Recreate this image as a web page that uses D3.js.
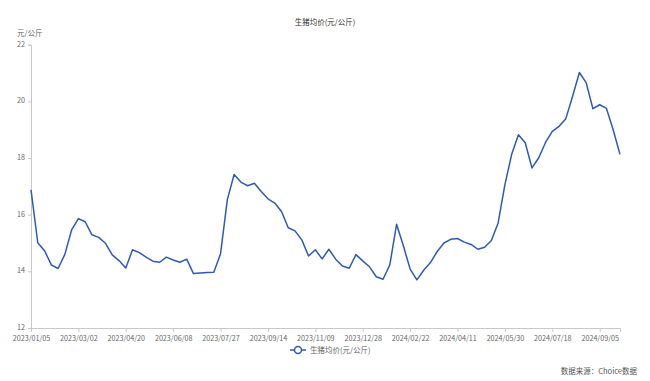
<!DOCTYPE html>
<html>
<head>
<meta charset="utf-8">
<script src="https://cdn.jsdelivr.net/npm/d3@7"></script>
<style>
  body { margin: 0; background: #fff; }
  svg { font-family: "Noto Sans CJK SC", "Noto Sans", sans-serif; }
</style>
</head>
<body>
<div id="chart"></div>
<script>
const chartTitle = "生猪均价(元/公斤)";
const unitLabel = "元/公斤";
const sourceLabel = "数据来源：Choice数据";

const dates = [
    "2023/01/05", "2023/01/12", "2023/01/19", "2023/02/02", "2023/02/09", "2023/02/16", "2023/02/23",
    "2023/03/02", "2023/03/09", "2023/03/16", "2023/03/23", "2023/03/30", "2023/04/06", "2023/04/13",
    "2023/04/20", "2023/04/27", "2023/05/04", "2023/05/11", "2023/05/18", "2023/05/25", "2023/06/01",
    "2023/06/08", "2023/06/15", "2023/06/22", "2023/06/29", "2023/07/06", "2023/07/13", "2023/07/20",
    "2023/07/27", "2023/08/03", "2023/08/10", "2023/08/17", "2023/08/24", "2023/08/31", "2023/09/07",
    "2023/09/14", "2023/09/21", "2023/09/28", "2023/10/12", "2023/10/19", "2023/10/26", "2023/11/02",
    "2023/11/09", "2023/11/16", "2023/11/23", "2023/11/30", "2023/12/07", "2023/12/14", "2023/12/21",
    "2023/12/28", "2024/01/04", "2024/01/11", "2024/01/18", "2024/01/25", "2024/02/01", "2024/02/08",
    "2024/02/22", "2024/02/29", "2024/03/07", "2024/03/14", "2024/03/21", "2024/03/28", "2024/04/04",
    "2024/04/11", "2024/04/18", "2024/04/25", "2024/05/02", "2024/05/09", "2024/05/16", "2024/05/23",
    "2024/05/30", "2024/06/06", "2024/06/13", "2024/06/20", "2024/06/27", "2024/07/04", "2024/07/11",
    "2024/07/18", "2024/07/25", "2024/08/01", "2024/08/08", "2024/08/15", "2024/08/22", "2024/08/29",
    "2024/09/05", "2024/09/12", "2024/09/19", "2024/09/26"
];

const prices = [
    16.88, 15.01, 14.73, 14.23, 14.10, 14.60, 15.46,
    15.86, 15.75, 15.29, 15.20, 14.99, 14.58, 14.38,
    14.12, 14.76, 14.66, 14.50, 14.36, 14.32, 14.50,
    14.40, 14.32, 14.43, 13.92, 13.94, 13.96, 13.97,
    14.62, 16.53, 17.42, 17.15, 17.02, 17.11, 16.82,
    16.56, 16.41, 16.11, 15.54, 15.43, 15.11, 14.54,
    14.76, 14.44, 14.78, 14.43, 14.19, 14.11, 14.59,
    14.37, 14.16, 13.81, 13.72, 14.23, 15.66, 14.90,
    14.08, 13.70, 14.04, 14.31, 14.70, 15.00, 15.13,
    15.16, 15.03, 14.95, 14.78, 14.85, 15.09, 15.71,
    17.06, 18.13, 18.82, 18.54, 17.65, 18.01, 18.55,
    18.94, 19.12, 19.39, 20.18, 21.02, 20.66, 19.74,
    19.88, 19.75, 18.99, 18.13
];

const yTicks = [12, 14, 16, 18, 20, 22];
const xTicks = dates.filter((d, i) => i % 7 === 0);

const canvasWidth = 650;
const canvasHeight = 381;
const margin = { top: 44.7, right: 30, bottom: 53, left: 31 };
const lineColor = "#3159b4";
const axisColor = "#c8c8c8";
const labelColor = "#666";

const svg = d3.select("#chart")
    .append("svg")
    .attr("width", canvasWidth)
    .attr("height", canvasHeight);

const xScale = d3.scalePoint()
    .domain(dates)
    .range([margin.left, canvasWidth - margin.right]);

const yScale = d3.scaleLinear()
    .domain([12, 22])
    .range([canvasHeight - margin.bottom, margin.top]);

// title and unit
svg.append("text")
    .attr("x", 325)
    .attr("y", 25)
    .attr("text-anchor", "middle")
    .attr("font-size", 7.5)
    .attr("fill", "#333")
    .text(chartTitle);

svg.append("text")
    .attr("x", 17)
    .attr("y", 36)
    .attr("font-size", 7.5)
    .attr("fill", labelColor)
    .text(unitLabel);

// axes
const xAxis = svg.append("g")
    .attr("transform", `translate(0,${yScale(12)})`)
    .call(d3.axisBottom(xScale).tickValues(xTicks).tickSizeOuter(0).tickSize(4).tickPadding(4));

const yAxis = svg.append("g")
    .attr("transform", `translate(${margin.left},0)`)
    .call(d3.axisLeft(yScale).tickValues(yTicks).tickSizeOuter(0).tickSize(3).tickPadding(3));

[xAxis, yAxis].forEach(ax => {
    ax.select(".domain").attr("stroke", axisColor);
    ax.selectAll(".tick line").attr("stroke", axisColor);
    ax.selectAll(".tick text")
        .attr("fill", labelColor)
        .attr("font-size", 7.2)
        .attr("font-family", "\"Noto Sans CJK SC\", \"Noto Sans\", sans-serif");
});

// keep the "12" label clear of the first date label
yAxis.selectAll(".tick text").attr("dy", "0.2em");

// price line
const line = d3.line()
    .x((d, i) => xScale(dates[i]))
    .y(d => yScale(d));

svg.append("path")
    .datum(prices)
    .attr("fill", "none")
    .attr("stroke", lineColor)
    .attr("stroke-width", 1.5)
    .attr("stroke-linejoin", "round")
    .attr("d", line);

// legend
const legend = svg.append("g").attr("transform", "translate(298,350)");

legend.append("line")
    .attr("x1", -8).attr("x2", 8)
    .attr("stroke", lineColor)
    .attr("stroke-width", 1.5);

legend.append("circle")
    .attr("r", 3.5)
    .attr("fill", "#fff")
    .attr("stroke", lineColor)
    .attr("stroke-width", 1.5);

legend.append("text")
    .attr("x", 12)
    .attr("y", 2.7)
    .attr("font-size", 7.5)
    .attr("fill", labelColor)
    .text(chartTitle);

// source
svg.append("text")
    .attr("x", 637)
    .attr("y", 374)
    .attr("text-anchor", "end")
    .attr("font-size", 7.5)
    .attr("fill", "#555")
    .text(sourceLabel);
</script>
</body>
</html>
